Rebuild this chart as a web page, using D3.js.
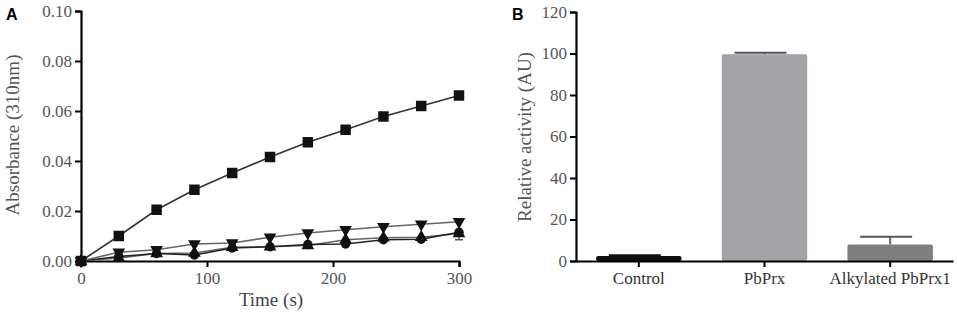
<!DOCTYPE html>
<html>
<head>
<meta charset="utf-8">
<script src="https://cdn.jsdelivr.net/npm/d3@7"></script>
<style>
  body { margin: 0; background: #fff; }
  svg text { font-family: "Liberation Serif", "Times New Roman", serif; }
</style>
</head>
<body>
<svg id="drawing_region"></svg>
<script>
// panel A: absorbance over time
const times = [0, 30, 60, 90, 120, 150, 180, 210, 240, 270, 300];
const squareSeries = [0, 0.0100, 0.0205, 0.0285, 0.0352, 0.0416, 0.0475, 0.0525, 0.0578, 0.0620, 0.0662];
const downSeries   = [0, 0.0035, 0.0045, 0.0068, 0.0072, 0.0095, 0.0112, 0.0125, 0.0137, 0.0147, 0.0157];
const upSeries     = [0, 0.0012, 0.0030, 0.0032, 0.0055, 0.0057, 0.0062, 0.0085, 0.0093, 0.0095, 0.0110];
const circleSeries = [0, 0.0018, 0.0030, 0.0024, 0.0052, 0.0057, 0.0066, 0.0068, 0.0085, 0.0087, 0.0115];
const circleErr    = [0, 0, 0, 0, 0, 0, 0, 0, 0, 0, 0.0030];
const xTicksA = [0, 100, 200, 300];
const yTicksA = [0, 0.02, 0.04, 0.06, 0.08, 0.10];

// panel B: relative activity
const categories = ["Control", "PbPrx", "Alkylated PbPrx1"];
const activity = [2.4, 99.6, 8.0];
const activityErr = [0.4, 0.8, 3.7];
const yTicksB = [0, 20, 40, 60, 80, 100, 120];

const svg = d3.select('#drawing_region')
    .attr('width', 957)
    .attr('height', 319);

const serif = '"Liberation Serif", "Times New Roman", serif';

function styleAxis(g, color) {
    g.select('.domain').attr('stroke', '#000').attr('stroke-width', 2.2);
    g.selectAll('.tick line').attr('stroke', '#000').attr('stroke-width', 2);
    g.selectAll('.tick text')
        .style('font-family', serif)
        .style('font-size', '17px')
        .attr('fill', color);
}

// ---------- panel A ----------
const xA = d3.scaleLinear().domain([0, 300]).range([81, 459]);
const yA = d3.scaleLinear().domain([0, 0.10]).range([261, 11]);

const gA = svg.append('g');

gA.append('g')
    .attr('transform', 'translate(81,0)')
    .call(d3.axisLeft(yA).tickValues(yTicksA).tickFormat(d3.format('.2f')).tickSize(6).tickPadding(3))
    .call(g => styleAxis(g, '#555'));

gA.append('g')
    .attr('transform', 'translate(0,261)')
    .call(d3.axisBottom(xA).tickValues(xTicksA).tickSize(6).tickPadding(5))
    .call(g => styleAxis(g, '#555'));

const seriesA = [
    { values: upSeries,     symbol: d3.symbolTriangle, size: 70, rot: 0,   line: '#666' },
    { values: circleSeries, symbol: d3.symbolCircle,   size: 70, rot: 0,   line: '#222' },
    { values: downSeries,   symbol: d3.symbolTriangle, size: 70, rot: 180, line: '#666' },
    { values: squareSeries, symbol: d3.symbolSquare,   size: 110, rot: 0,  line: '#333' }
];

const lineA = d3.line()
    .x((d, i) => xA(times[i]))
    .y(d => yA(d));

// error bars for the circle series
const errA = circleErr.map((e, i) => ({ t: times[i], v: circleSeries[i], e: e })).filter(d => d.e > 0);

gA.append('g').selectAll('line')
    .data(errA)
    .join('line')
    .attr('x1', d => xA(d.t)).attr('x2', d => xA(d.t))
    .attr('y1', d => yA(d.v - d.e)).attr('y2', d => yA(d.v + d.e))
    .attr('stroke', '#555').attr('stroke-width', 1.5);

gA.append('g').selectAll('line')
    .data(errA)
    .join('line')
    .attr('x1', d => xA(d.t) - 4).attr('x2', d => xA(d.t) + 4)
    .attr('y1', d => yA(d.v - d.e)).attr('y2', d => yA(d.v - d.e))
    .attr('stroke', '#555').attr('stroke-width', 1.5);

seriesA.forEach(s => {
    gA.append('path')
        .datum(s.values)
        .attr('d', lineA)
        .attr('fill', 'none')
        .attr('stroke', s.line)
        .attr('stroke-width', 1.6);
});

seriesA.forEach(s => {
    gA.append('g').selectAll('path')
        .data(s.values)
        .join('path')
        .attr('d', d3.symbol().type(s.symbol).size(s.size))
        .attr('transform', (d, i) => `translate(${xA(times[i])},${yA(d)}) rotate(${s.rot})`)
        .attr('fill', '#111');
});

gA.append('text')
    .attr('x', 271).attr('y', 306)
    .attr('text-anchor', 'middle')
    .style('font-size', '19px')
    .attr('fill', '#444')
    .text('Time (s)');

gA.append('text')
    .attr('transform', 'translate(19,135) rotate(-90)')
    .attr('text-anchor', 'middle')
    .style('font-size', '19px')
    .attr('fill', '#555')
    .text('Absorbance  (310nm)');

svg.append('text')
    .attr('x', 6).attr('y', 20)
    .style('font-size', '16px')
    .attr('font-weight', 'bold')
    .style('font-family', '"Liberation Sans", Arial, sans-serif')
    .text('A');

// ---------- panel B ----------
const xB = d3.scaleBand().domain(categories).range([576, 953]).paddingInner(0.32).paddingOuter(0.16);
const yB = d3.scaleLinear().domain([0, 120]).range([261, 12]);
const barColors = ['#111111', '#a3a3a7', '#7e7e80'];

const gB = svg.append('g');

gB.append('g').selectAll('rect')
    .data(activity)
    .join('rect')
    .attr('x', (d, i) => xB(categories[i]))
    .attr('y', d => yB(d))
    .attr('width', xB.bandwidth())
    .attr('height', d => yB(0) - yB(d))
    .attr('rx', 2)
    .attr('fill', (d, i) => barColors[i]);

// error bars (upper only)
const errB = activity.map((v, i) => ({ c: categories[i], v: v, e: activityErr[i] }));
gB.append('g').selectAll('line')
    .data(errB)
    .join('line')
    .attr('x1', d => xB(d.c) + xB.bandwidth() / 2).attr('x2', d => xB(d.c) + xB.bandwidth() / 2)
    .attr('y1', d => yB(d.v)).attr('y2', d => yB(d.v + d.e))
    .attr('stroke', (d, i) => i === 0 ? '#111' : '#666').attr('stroke-width', 2);
gB.append('g').selectAll('line')
    .data(errB)
    .join('line')
    .attr('x1', d => xB(d.c) + xB.bandwidth() / 2 - 30).attr('x2', d => xB(d.c) + xB.bandwidth() / 2 + 22)
    .attr('y1', d => yB(d.v + d.e)).attr('y2', d => yB(d.v + d.e))
    .attr('stroke', (d, i) => i === 0 ? '#111' : '#555').attr('stroke-width', 2);

gB.append('g')
    .attr('transform', 'translate(576,0)')
    .call(d3.axisLeft(yB).tickValues(yTicksB).tickSize(6).tickPadding(3))
    .call(g => styleAxis(g, '#555'));

gB.append('g')
    .attr('transform', 'translate(0,261)')
    .call(d3.axisBottom(xB).tickSize(6).tickPadding(5).tickSizeOuter(0))
    .call(g => styleAxis(g, '#333'));

gB.append('text')
    .attr('transform', 'translate(531,137) rotate(-90)')
    .attr('text-anchor', 'middle')
    .style('font-size', '19px')
    .attr('fill', '#555')
    .text('Relative activity (AU)');

svg.append('text')
    .attr('x', 512).attr('y', 20)
    .style('font-size', '16px')
    .attr('font-weight', 'bold')
    .style('font-family', '"Liberation Sans", Arial, sans-serif')
    .text('B');
</script>
</body>
</html>
